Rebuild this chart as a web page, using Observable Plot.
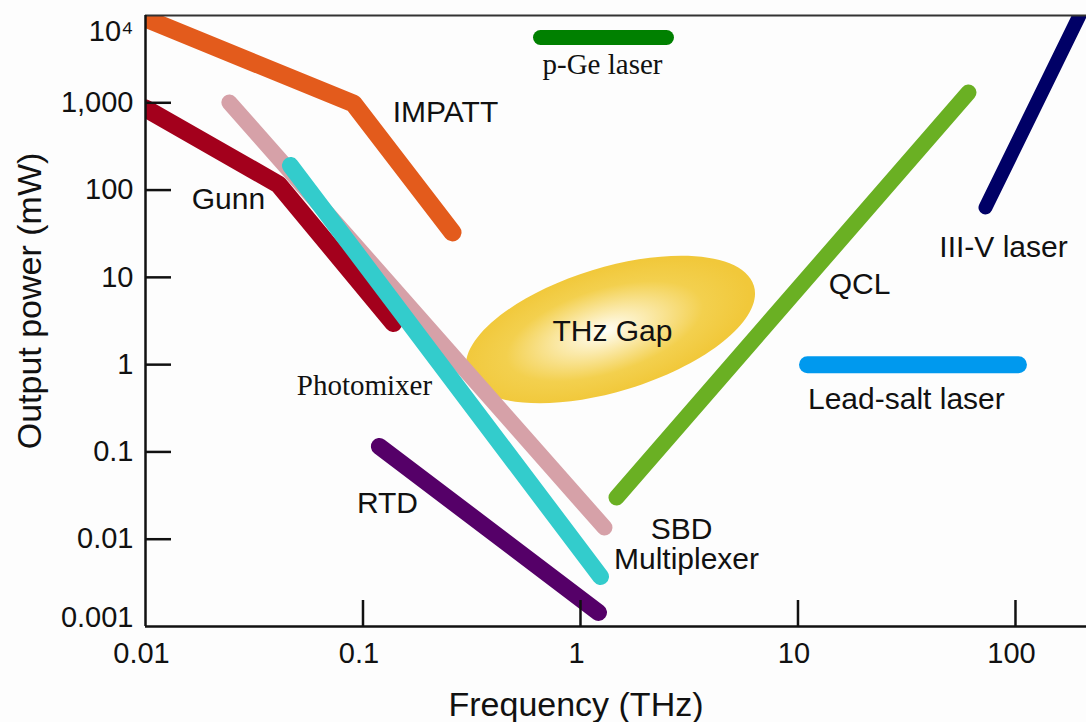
<!DOCTYPE html>
<html><head><meta charset="utf-8">
<script src="https://cdn.jsdelivr.net/npm/d3@7"></script>
<script src="https://cdn.jsdelivr.net/npm/@observablehq/plot@0.6"></script>
<style>
html,body{margin:0;padding:0;background:#fdfdfd;}
#chart{width:1086px;height:722px;overflow:hidden;}
</style></head><body><div id="chart"></div>
<script>
// ---- data (frequency in THz, output power in mW) ----
const impattFreq = [0.01, 0.0904, 0.258];
const impattPower = [9240, 981, 32.7];
const gunnFreq = [0.01, 0.0409, 0.138];
const gunnPower = [860, 116, 3.0];
const sbdFreq = [0.0243, 1.289];
const sbdPower = [1008, 0.0136];
const photomixerFreq = [0.0464, 1.236];
const photomixerPower = [191, 0.00374];
const rtdFreq = [0.119, 1.21];
const rtdPower = [0.1155, 0.00145];
const qclFreq = [1.464, 60.8];
const qclPower = [0.0301, 1312];
const iiivFreq = [72.8, 246];
const iiivPower = [63.2, 31090];
const pgeFreq = [0.655, 2.485];
const pgePower = [5600, 5600];
const leadSaltFreq = [11.06, 103.2];
const leadSaltPower = [1, 1];

const gapCenterFreq = [1.373];
const gapCenterPower = [2.527];

const sansLabels = ["IMPATT", "Gunn", "RTD", "SBD", "Multiplexer", "THz Gap", "QCL", "III-V laser", "Lead-salt laser"];
const sansLabelFreq = [0.2394, 0.02407, 0.1296, 2.913, 3.072, 1.403, 19.18, 88.1, 31.5];
const sansLabelPower = [774, 78.0, 0.02568, 0.0128, 0.00585, 2.399, 8.287, 22.0, 0.399];
const serifLabels = ["Photomixer", "p-Ge laser"];
const serifLabelFreq = [0.1016, 1.262];
const serifLabelPower = [0.577, 2746];

const xTickValues = [0.01, 0.1, 1, 10, 100];
const xTickLabels = ["0.01", "0.1", "1", "10", "100"];
const yTickValues = [1000, 100, 10, 1, 0.1, 0.01];
const yTickLabels = ["1,000", "100", "10", "1", "0.1", "0.01"];
const yTopLabel = ["10⁴"];
const yBottomLabel = ["0.001"];

// ---- helpers ----
const rows = (fs, ps) => fs.map((f, i) => ({f, p: ps[i]}));
const FONT = "'Liberation Sans', Arial, Helvetica, sans-serif";
const SERIF = "'Liberation Serif', 'Times New Roman', serif";

const lineStyle = (color, width) => ({
  x: "f", y: "p", stroke: color, strokeWidth: width,
  strokeLinecap: "round", strokeLinejoin: "round", clip: true
});

const RX = 150, RY = 62, K = 0.5522847;
const ellipseSymbol = {
  draw(ctx) {
    ctx.moveTo(RX, 0);
    ctx.bezierCurveTo(RX, K * RY, K * RX, RY, 0, RY);
    ctx.bezierCurveTo(-K * RX, RY, -RX, K * RY, -RX, 0);
    ctx.bezierCurveTo(-RX, -K * RY, -K * RX, -RY, 0, -RY);
    ctx.bezierCurveTo(K * RX, -RY, RX, -K * RY, RX, 0);
    ctx.closePath();
  }
};

const defsMark = () => {
  const g = document.createElementNS("http://www.w3.org/2000/svg", "defs");
  g.innerHTML = `<radialGradient id="gapGrad" cx="0.48" cy="0.5" r="0.5">
    <stop offset="0" stop-color="#fffef6"/>
    <stop offset="0.28" stop-color="#fbebb0"/>
    <stop offset="0.68" stop-color="#f3d04e"/>
    <stop offset="1" stop-color="#f1c83a"/>
  </radialGradient>`;
  return g;
};

const TICK_FS = 29, LABEL_FS = 30, TITLE_FS = 34;

const chart = Plot.plot({
  width: 1086,
  height: 722,
  marginLeft: 145,
  marginRight: 0,
  marginTop: 15,
  marginBottom: 96,
  style: {fontFamily: FONT, background: "#fdfdfd", color: "#111"},
  x: {type: "log", domain: [0.01, 212.1], axis: null},
  y: {type: "log", domain: [0.001, 10000], axis: null},
  marks: [
    defsMark,
    Plot.dot(rows(gapCenterFreq, gapCenterPower), {x: "f", y: "p", symbol: ellipseSymbol, r: 10, fill: "url(#gapGrad)", stroke: "none", rotate: -17}),
    Plot.line(rows(pgeFreq, pgePower), lineStyle("#008000", 15)),
    Plot.line(rows(leadSaltFreq, leadSaltPower), lineStyle("#0099ee", 17)),
    Plot.line(rows(impattFreq, impattPower), lineStyle("#e35b1c", 18)),
    Plot.line(rows(gunnFreq, gunnPower), lineStyle("#a3001c", 18)),
    Plot.line(rows(sbdFreq, sbdPower), lineStyle("#d6a1a8", 16)),
    Plot.line(rows(rtdFreq, rtdPower), lineStyle("#550068", 17)),
    Plot.line(rows(photomixerFreq, photomixerPower), lineStyle("#33cccc", 17)),
    Plot.line(rows(qclFreq, qclPower), lineStyle("#6ab023", 16)),
    Plot.line(rows(iiivFreq, iiivPower), lineStyle("#000066", 14)),
    // frame lines
    Plot.ruleY([10000], {stroke: "#333", strokeWidth: 2}),
    Plot.ruleY([0.001], {stroke: "#111", strokeWidth: 2.5}),
    Plot.ruleX([0.01], {stroke: "#111", strokeWidth: 2.5}),
    // inward ticks
    Plot.tickX(xTickValues.slice(1), {x: d => d, stroke: "#111", strokeWidth: 2.5, insetTop: 585}),
    Plot.tickY(yTickValues, {y: d => d, stroke: "#111", strokeWidth: 2.5, insetRight: 915}),
    // tick labels
    Plot.text(xTickValues, {x: d => d, y: 0.001, text: (d, i) => xTickLabels[i], dy: 27, dx: -4, fontSize: TICK_FS, lineAnchor: "middle", fill: "#111"}),
    Plot.text(yTickValues, {x: 0.01, y: d => d, text: (d, i) => yTickLabels[i], dx: -12, textAnchor: "end", fontSize: TICK_FS, lineAnchor: "middle", fill: "#111"}),
    Plot.text(yTopLabel, {x: 0.01, y: 10000, text: d => d, dx: -12, dy: 16, textAnchor: "end", fontSize: TICK_FS, lineAnchor: "middle", fill: "#111"}),
    Plot.text(yBottomLabel, {x: 0.01, y: 0.001, text: d => d, dx: -12, dy: -9, textAnchor: "end", fontSize: TICK_FS, lineAnchor: "middle", fill: "#111"}),
    // axis titles
    Plot.text(["Frequency (THz)"], {frameAnchor: "bottom", text: d => d, dy: 79, dx: -40, fontSize: TITLE_FS, textAnchor: "middle", lineAnchor: "middle", fill: "#111"}),
    Plot.text(["Output power (mW)"], {frameAnchor: "left", text: d => d, dx: -115, dy: -20, rotate: -90, fontSize: TITLE_FS, textAnchor: "middle", lineAnchor: "middle", fill: "#111"}),
    // series labels
    Plot.text(sansLabels, {x: (d, i) => sansLabelFreq[i], y: (d, i) => sansLabelPower[i], text: d => d, fontSize: LABEL_FS, textAnchor: "middle", lineAnchor: "middle", fill: "#111"}),
    Plot.text(serifLabels, {x: (d, i) => serifLabelFreq[i], y: (d, i) => serifLabelPower[i], text: d => d, fontSize: 29, fontFamily: SERIF, textAnchor: "middle", lineAnchor: "middle", fill: "#111"})
  ]
});
document.getElementById("chart").appendChild(chart);
</script>
</body></html>
